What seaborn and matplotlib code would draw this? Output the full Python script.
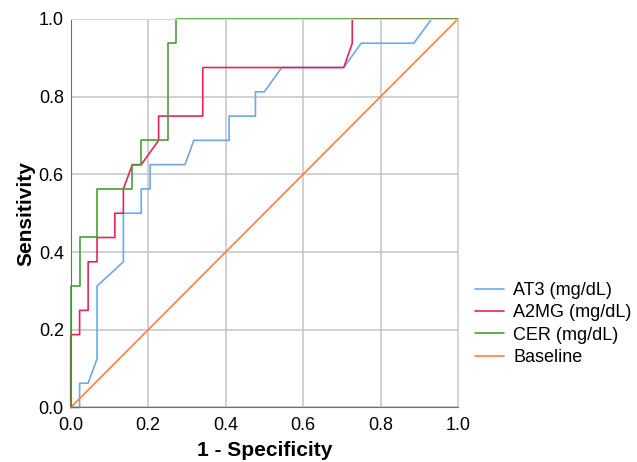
import numpy as np
import pandas as pd
import matplotlib
matplotlib.use("Agg")
import matplotlib.pyplot as plt
import seaborn as sns

# ROC points (1 - specificity, sensitivity)
at3_fpr = [0, 0.023, 0.023, 0.045, 0.068, 0.068, 0.136, 0.136, 0.182, 0.182, 0.205, 0.205,
           0.295, 0.318, 0.409, 0.409, 0.477, 0.477, 0.5, 0.545, 0.705, 0.75, 0.886, 0.932, 1.0]
at3_tpr = [0, 0, 0.0625, 0.0625, 0.125, 0.3125, 0.375, 0.5, 0.5, 0.5625, 0.5625, 0.625,
           0.625, 0.6875, 0.6875, 0.75, 0.75, 0.8125, 0.8125, 0.875, 0.875, 0.9375, 0.9375, 1.0, 1.0]

a2mg_fpr = [0, 0, 0.023, 0.023, 0.045, 0.045, 0.068, 0.068, 0.114, 0.114, 0.136, 0.136,
            0.159, 0.182, 0.227, 0.227, 0.341, 0.341, 0.705, 0.727, 0.727, 1.0]
a2mg_tpr = [0, 0.1875, 0.1875, 0.25, 0.25, 0.375, 0.375, 0.4375, 0.4375, 0.5, 0.5, 0.5625,
            0.625, 0.625, 0.6875, 0.75, 0.75, 0.875, 0.875, 0.9375, 1.0, 1.0]

cer_fpr = [0, 0, 0.023, 0.023, 0.068, 0.068, 0.159, 0.159, 0.182, 0.182, 0.25, 0.25,
           0.273, 0.273, 1.0]
cer_tpr = [0, 0.3125, 0.3125, 0.4375, 0.4375, 0.5625, 0.5625, 0.625, 0.625, 0.6875, 0.6875,
           0.9375, 0.9375, 1.0, 1.0]

base_fpr = [0, 1.0]
base_tpr = [0, 1.0]

series = [
    ("AT3 (mg/dL)", at3_fpr, at3_tpr, "#6fa8e6"),
    ("A2MG (mg/dL)", a2mg_fpr, a2mg_tpr, "#e3265a"),
    ("CER (mg/dL)", cer_fpr, cer_tpr, "#4a9e3a"),
    ("Baseline", base_fpr, base_tpr, "#ff7f3f"),
]

sns.set_style("white")
plt.rcParams['font.family'] = ['Liberation Sans', 'DejaVu Sans']
plt.rcParams['text.color'] = 'black'

fig = plt.figure(figsize=(6.37, 4.62), dpi=100)
ax = fig.add_axes([0.111, 0.118, 0.608, 0.841])

for name, x, y, c in series:
    df = pd.DataFrame({"x": x, "y": y})
    sns.lineplot(data=df, x="x", y="y", sort=False, estimator=None, color=c,
                 linewidth=1.2, label=name, ax=ax)
for ln in ax.get_lines():
    ln.set_clip_on(False)

ax.set_xlim(0, 1)
ax.set_ylim(0, 1)
ticks = [0.0, 0.2, 0.4, 0.6, 0.8, 1.0]
ax.set_xticks(ticks)
ax.set_yticks(ticks)
ax.set_xticklabels([f"{t:.1f}" for t in ticks])
ax.set_yticklabels([f"{t:.1f}" for t in ticks])
ax.tick_params(axis='both', labelsize=13, length=0, labelcolor='black')
ax.tick_params(axis='x', pad=7)
ax.tick_params(axis='y', pad=5)
ax.grid(True, color="#c4c4c4", linewidth=1.1)
ax.set_axisbelow(True)

for s in ["top", "right"]:
    ax.spines[s].set_color("#d8d8d8")
for s in ["left", "bottom"]:
    ax.spines[s].set_color("#707070")

ax.set_xlabel("1 - Specificity", fontsize=15, fontweight="bold", labelpad=5, color='black')
ax.set_ylabel("Sensitivity", fontsize=15, fontweight="bold", labelpad=2, color='black')

ax.legend(loc="center left", bbox_to_anchor=(1.0, 0.215), frameon=False,
          fontsize=13, handlelength=1.6, handletextpad=0.5, labelspacing=0.3,
          borderaxespad=0.55)

plt.savefig("out.png", dpi=100)
